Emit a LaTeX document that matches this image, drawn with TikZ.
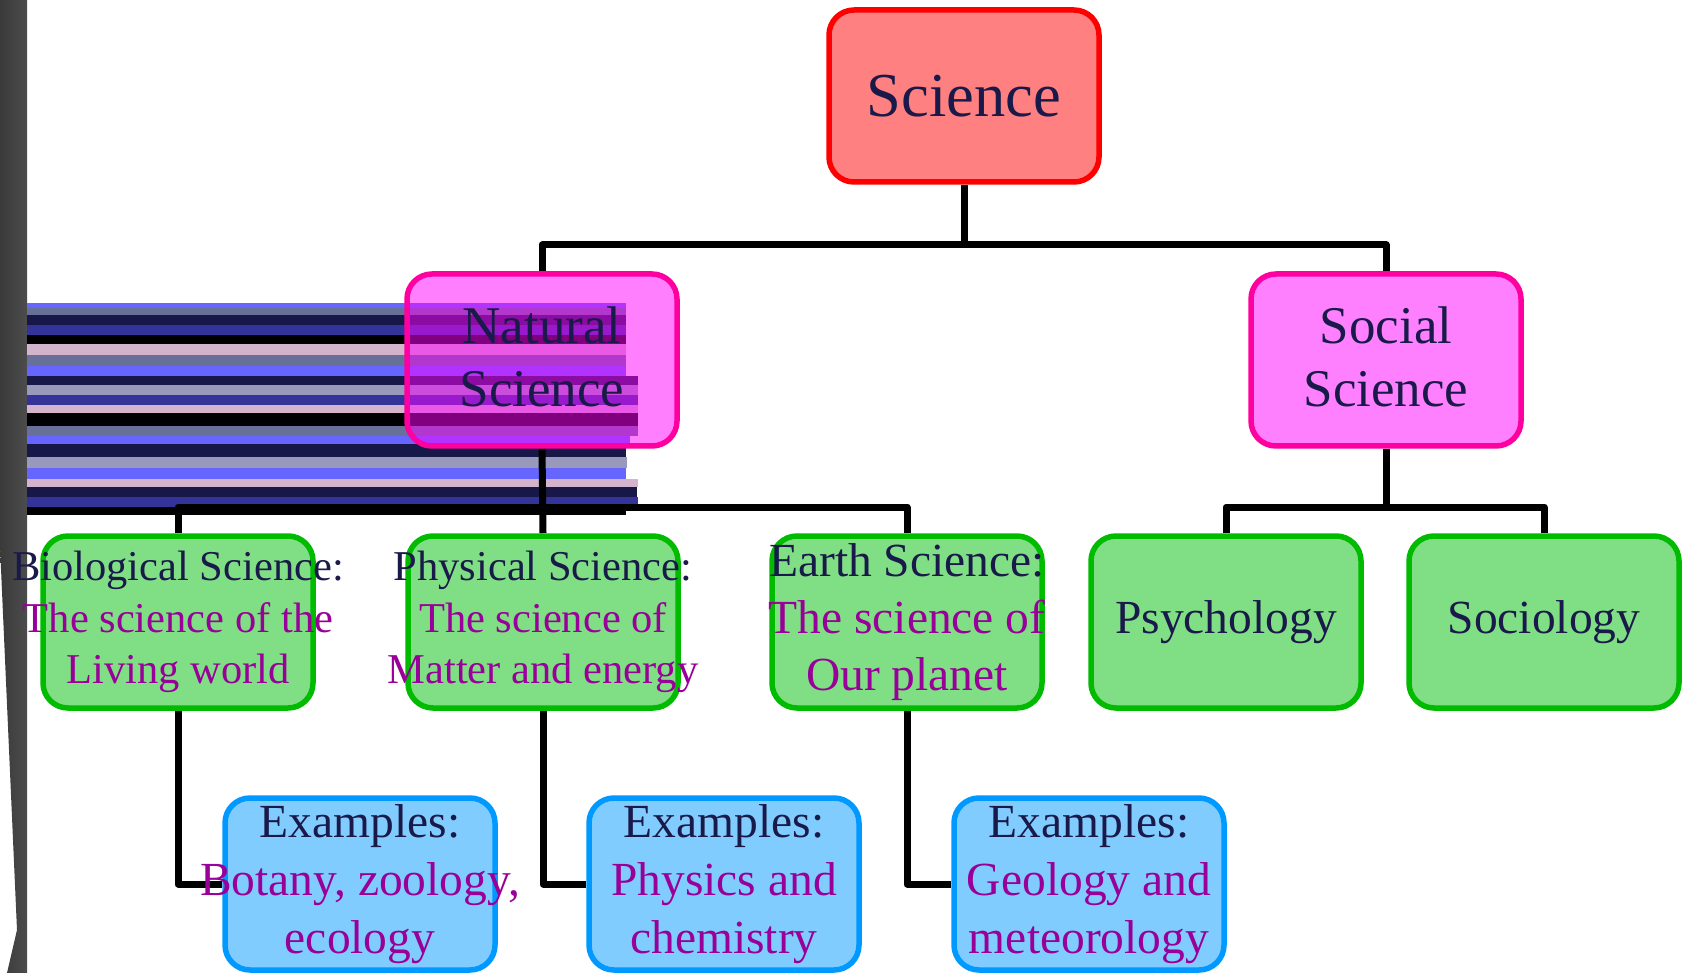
\documentclass[tikz,border=0pt]{standalone}
\usepackage{fontspec}
\setmainfont{Liberation Serif}
\pgfdeclarelayer{bg}
\pgfdeclarelayer{lines}
\pgfsetlayers{bg,lines,main}
\definecolor{navy}{RGB}{26,26,74}
\definecolor{purp}{RGB}{153,0,153}
\definecolor{scired}{RGB}{255,0,0}
\definecolor{scifill}{RGB}{255,128,128}
\definecolor{midline}{RGB}{255,0,160}
\definecolor{midfill}{RGB}{255,128,255}
\definecolor{magfill}{RGB}{255,0,255}
\definecolor{grnline}{RGB}{0,187,0}
\definecolor{grnfill}{RGB}{128,223,132}
\definecolor{bluline}{RGB}{0,153,255}
\definecolor{blufill}{RGB}{128,204,255}
\definecolor{barL}{RGB}{58,58,58}
\definecolor{barR}{RGB}{76,76,76}
\definecolor{sA}{RGB}{102,102,255}
\definecolor{sG}{RGB}{102,112,153}
\definecolor{sN}{RGB}{24,24,72}
\definecolor{sI}{RGB}{51,51,153}
\definecolor{sK}{RGB}{0,0,0}
\definecolor{sP}{RGB}{212,180,204}
\definecolor{sL}{RGB}{153,153,187}
\newcommand\fSci{\fontsize{62.5}{75}\selectfont}
\newcommand\fMid{\fontsize{53}{63}\selectfont}
\newcommand\fSmall{\fontsize{42.5}{51.5}\selectfont}
\newcommand\fBig{\fontsize{47.5}{57}\selectfont}
\newcommand\fEx{\fontsize{47.5}{58}\selectfont}
\tikzset{
  box/.style={rounded corners=25pt, line width=5.5pt, minimum width=270pt,
    minimum height=172pt, inner sep=0pt},
  sci/.style={box, draw=scired, fill=scifill},
  mid/.style={box, draw=midline, fill=midfill},
  grn/.style={box, draw=grnline, fill=grnfill},
  blu/.style={box, draw=bluline, fill=blufill},
  txt/.style={align=center, inner sep=0pt, text=navy},
  conn/.style={line width=7pt, line join=round, draw=black},
}
\begin{document}
\begin{tikzpicture}[x=1pt,y=-1pt]
\useasboundingbox (0,0) rectangle (1682,973);
\begin{pgfonlayer}{bg}
  \fill[white] (0,0) rectangle (1682,973);
  \shade[left color=barL, right color=barR] (0,0) -- (27,0) -- (27,973) -- (7,973) -- (17,930) -- (0,546) -- cycle;
  \foreach \ya/\yb/\xr/\c in {303/308.2/626/sA, 308/315.6/626/sG, 315.4/325.5/626/sN,
      325.3/335.5/626/sI, 335.3/344.2/626/sK, 344/355.3/626/sP, 355.1/366.5/626/sG,
      366.3/376.4/626/sA, 376.2/385.1/638/sN, 384.9/395.1/638/sL, 394.9/405/638/sI,
      404.8/413.7/638/sP, 413.5/426.1/638/sK, 425.9/436/638/sG, 435.8/444.7/630/sA,
      444.5/457.1/626/sN, 456.9/468.3/627/sL, 468.1/479.5/626/sA, 479.3/486.9/638/sP,
      486.7/496.9/637/sN, 496.7/506.8/638/sI, 506.6/515.3/626/sK}
    \fill[\c] (27,\ya) rectangle (\xr,\yb);
\end{pgfonlayer}

\node[sci] (sci) at (964,96) {};
\node[mid, fill=magfill, fill opacity=0.5, draw opacity=1] (nat) at (542,360) {};
\node[mid] (soc) at (1386,360) {};
\node[grn] (bio) at (178,622) {};
\node[grn] (phys) at (543,622) {};
\node[grn] (earth) at (907,622) {};
\node[grn] (psy) at (1226,622) {};
\node[grn] (socio) at (1544,622) {};
\node[blu] (ex1) at (360,884) {};
\node[blu] (ex2) at (724,884) {};
\node[blu] (ex3) at (1089,884) {};

\node[txt, font=\fSci] (sci-t) at (sci) {Science};
\node[txt, font=\fMid] (nat-t) at ([yshift=3pt]nat) {Natural\\Science};
\node[txt, font=\fMid] (soc-t) at ([yshift=3pt]soc) {Social\\Science};
\node[txt, font=\fSmall] (bio-t) at (bio) {Biological Science:\\\textcolor{purp}{The science of the}\\\textcolor{purp}{Living world}};
\node[txt, font=\fSmall] (phys-t) at (phys) {Physical Science:\\\textcolor{purp}{The science of}\\\textcolor{purp}{Matter and energy}};
\node[txt, font=\fBig] (earth-t) at (earth) {Earth Science:\\\textcolor{purp}{The science of}\\\textcolor{purp}{Our planet}};
\node[txt, font=\fBig] (psy-t) at (psy) {Psychology};
\node[txt, font=\fBig] (socio-t) at (socio) {Sociology};
\node[txt, font=\fEx] (ex1-t) at (ex1) {Examples:\\\textcolor{purp}{Botany, zoology,}\\\textcolor{purp}{ecology}};
\node[txt, font=\fEx] (ex2-t) at (ex2) {Examples:\\\textcolor{purp}{Physics and}\\\textcolor{purp}{chemistry}};
\node[txt, font=\fEx] (ex3-t) at (ex3) {Examples:\\\textcolor{purp}{Geology and}\\\textcolor{purp}{meteorology}};

\coordinate (j1) at (964,245);
\coordinate (j2) at (543,507);
\coordinate (j3) at (1386,507);
\begin{pgfonlayer}{lines}
  \draw[conn] (sci.south) -- (j1);
  \draw[conn] (nat.north) -- (nat.north |- j1) -- (soc.north |- j1) -- (soc.north);
  \draw[conn] (nat.south) -- (phys.north);
  \draw[conn] (bio.north) -- (bio.north |- j2) -- (earth.north |- j2) -- (earth.north);
  \draw[conn] (soc.south) -- (j3);
  \draw[conn] (psy.north) -- (psy.north |- j3) -- (socio.north |- j3) -- (socio.north);
  \draw[conn] (bio.south) |- (ex1.west);
  \draw[conn] (phys.south) |- (ex2.west);
  \draw[conn] (earth.south) |- (ex3.west);
\end{pgfonlayer}
\end{tikzpicture}
\end{document}
